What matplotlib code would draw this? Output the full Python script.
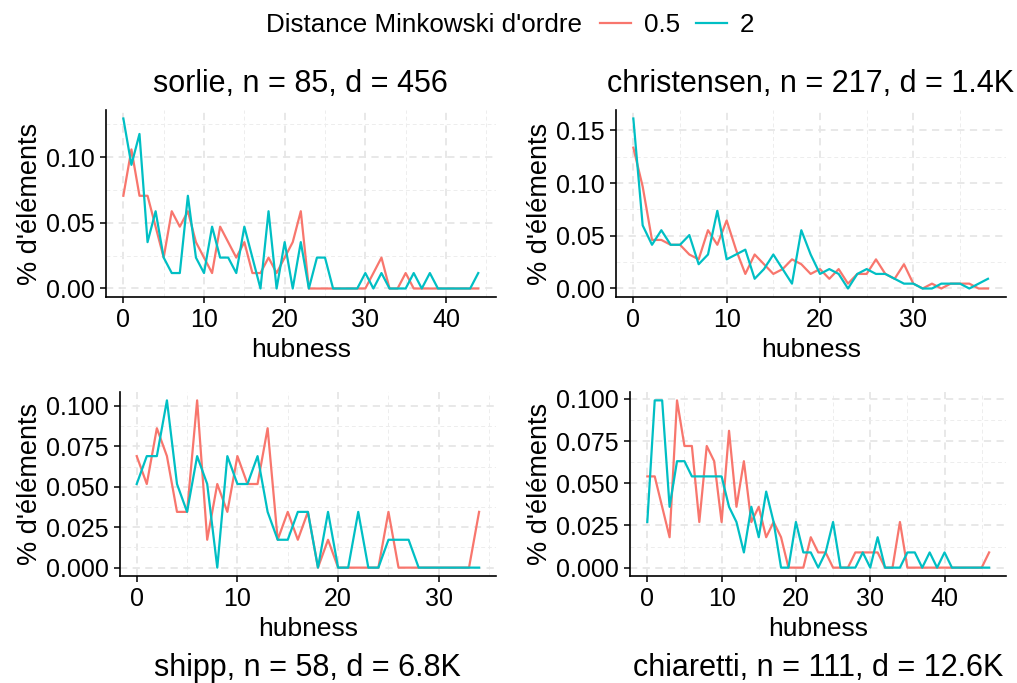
import matplotlib
matplotlib.use("Agg")
import matplotlib.pyplot as plt
from matplotlib.lines import Line2D
from matplotlib.ticker import MultipleLocator, FormatStrFormatter

plt.rcParams["font.family"] = ["Liberation Sans", "DejaVu Sans"]

RED = "#F8766D"
TEAL = "#00BFC4"

# counts of elements per hubness value (proportion = count / n)
sorlie_n = 85
sorlie_05 = [6, 9, 6, 6, 4, 2, 5, 4, 5, 3, 2, 1, 4, 3, 2, 3, 1, 1, 2, 1, 2, 3, 5,
             0, 0, 0, 0, 0, 0, 0, 0, 1, 2, 0, 0, 1, 0, 0, 0, 0, 0, 0, 0, 0, 0]
sorlie_2 = [11, 8, 10, 3, 5, 2, 1, 1, 6, 2, 1, 4, 2, 2, 1, 4, 2, 0, 5, 0, 3, 0, 3,
            0, 2, 2, 0, 0, 0, 0, 1, 0, 1, 0, 0, 0, 1, 0, 1, 0, 0, 0, 0, 0, 1]

christensen_n = 217
christensen_05 = [29, 21, 10, 10, 9, 9, 7, 6, 12, 9, 14, 8, 3, 7, 5, 3, 4, 6, 5, 3,
                  4, 2, 4, 1, 3, 3, 6, 3, 2, 5, 1, 0, 1, 0, 1, 1, 1, 0, 0]
christensen_2 = [35, 13, 9, 12, 9, 9, 11, 5, 7, 16, 6, 7, 8, 2, 4, 7, 4, 1, 12, 7,
                 3, 4, 3, 0, 3, 4, 3, 3, 2, 1, 1, 0, 0, 1, 1, 1, 0, 1, 2]

shipp_n = 58
shipp_05 = [4, 3, 5, 4, 2, 2, 6, 1, 3, 2, 4, 3, 3, 5, 1, 2, 1, 2, 0, 1, 0, 0, 0, 0,
            0, 2, 0, 0, 0, 0, 0, 0, 0, 0, 2]
shipp_2 = [3, 4, 4, 6, 3, 2, 4, 3, 0, 4, 3, 3, 4, 2, 1, 1, 2, 2, 0, 2, 0, 0, 2, 0,
           0, 1, 1, 1, 0, 0, 0, 0, 0, 0, 0]

chiaretti_n = 111
chiaretti_05 = [6, 6, 4, 2, 11, 8, 8, 3, 8, 7, 3, 9, 4, 7, 3, 4, 2, 3, 2, 0, 0, 0,
                2, 1, 1, 0, 0, 0, 1, 1, 1, 1, 0, 0, 3, 0, 0, 0, 0, 0, 0, 0, 0, 0,
                0, 0, 1]
chiaretti_2 = [3, 11, 11, 4, 7, 7, 6, 6, 6, 6, 6, 4, 3, 1, 4, 2, 5, 3, 0, 0, 3, 1,
               1, 0, 1, 3, 0, 0, 0, 1, 0, 2, 0, 0, 0, 1, 1, 0, 1, 0, 1, 0, 0, 0,
               0, 0, 0]

titles = ["sorlie, n = 85, d = 456", "christensen, n = 217, d = 1.4K",
          "shipp, n = 58, d = 6.8K", "chiaretti, n = 111, d = 12.6K"]

W, H = 1017, 683


def px_rect(left, right, top, bottom):
    return [left / W, 1 - bottom / H, (right - left) / W, (bottom - top) / H]


panels = [
    (sorlie_05, sorlie_2, sorlie_n, px_rect(105.6, 496, 110, 297), 0.05, "%.2f", "top"),
    (christensen_05, christensen_2, christensen_n, px_rect(615.6, 1005.7, 110, 297), 0.05, "%.2f", "top"),
    (shipp_05, shipp_2, shipp_n, px_rect(119.6, 496.2, 392, 576), 0.025, "%.3f", "bottom"),
    (chiaretti_05, chiaretti_2, chiaretti_n, px_rect(630.2, 1006.2, 392, 576), 0.025, "%.3f", "bottom"),
]

fig = plt.figure(figsize=(W / 100, H / 100), dpi=100)

for (c05, c2, n, rect, ystep, yfmt, tpos), title in zip(panels, titles):
    ax = fig.add_axes(rect)
    x05 = list(range(len(c05)))
    x2 = list(range(len(c2)))
    y05 = [c / n for c in c05]
    y2 = [c / n for c in c2]

    ax.plot(x05, y05, color=RED, lw=1.6, zorder=3)
    ax.plot(x2, y2, color=TEAL, lw=1.6, zorder=4)

    xmax = max(len(c05), len(c2)) - 1
    ymax = max(max(y05), max(y2))
    ax.set_xlim(-0.05 * xmax, 1.05 * xmax)
    ax.set_ylim(-0.05 * ymax, 1.05 * ymax)

    ax.xaxis.set_major_locator(MultipleLocator(10))
    ax.xaxis.set_minor_locator(MultipleLocator(5))
    ax.yaxis.set_major_locator(MultipleLocator(ystep))
    ax.yaxis.set_minor_locator(MultipleLocator(ystep / 2))
    ax.yaxis.set_major_formatter(FormatStrFormatter(yfmt))

    ax.grid(which="major", color="#E6E6E6", lw=1.3, ls=(0, (4, 3)), zorder=0)
    ax.grid(which="minor", color="#EDEDED", lw=0.7, ls=(0, (4, 3)), zorder=0)
    ax.set_axisbelow(True)

    for s in ["top", "right"]:
        ax.spines[s].set_visible(False)
    for s in ["left", "bottom"]:
        ax.spines[s].set_linewidth(1.2)

    ax.tick_params(which="major", length=4.5, width=1.1, labelsize=18, pad=3.5, colors="black")
    ax.tick_params(which="minor", length=0)

    ax.set_xlabel("hubness", fontsize=19, labelpad=4)
    ax.set_ylabel("% d'éléments", fontsize=19.5, labelpad=2)

    cx = rect[0] + rect[2] / 2
    if tpos == "top":
        fig.text(cx, 1 - 92 / H, title, fontsize=22, ha="center", va="baseline")
    else:
        fig.text(cx, 1 - 676 / H, title, fontsize=22, ha="center", va="baseline")

# legend
fig.text(266 / W, 1 - 25 / H, "Distance Minkowski d'ordre", fontsize=18.7,
         ha="left", va="center")
handles = [Line2D([], [], color=RED, lw=1.6), Line2D([], [], color=TEAL, lw=1.6)]
fig.legend(handles, ["0.5", "2"], loc="center left",
           bbox_to_anchor=(600 / W, 1 - 25 / H), ncol=2, frameon=False,
           fontsize=18.7, handlelength=1.2, handletextpad=0.5,
           columnspacing=0.6, borderpad=0, borderaxespad=0)

fig.savefig("out.png", dpi=100)
